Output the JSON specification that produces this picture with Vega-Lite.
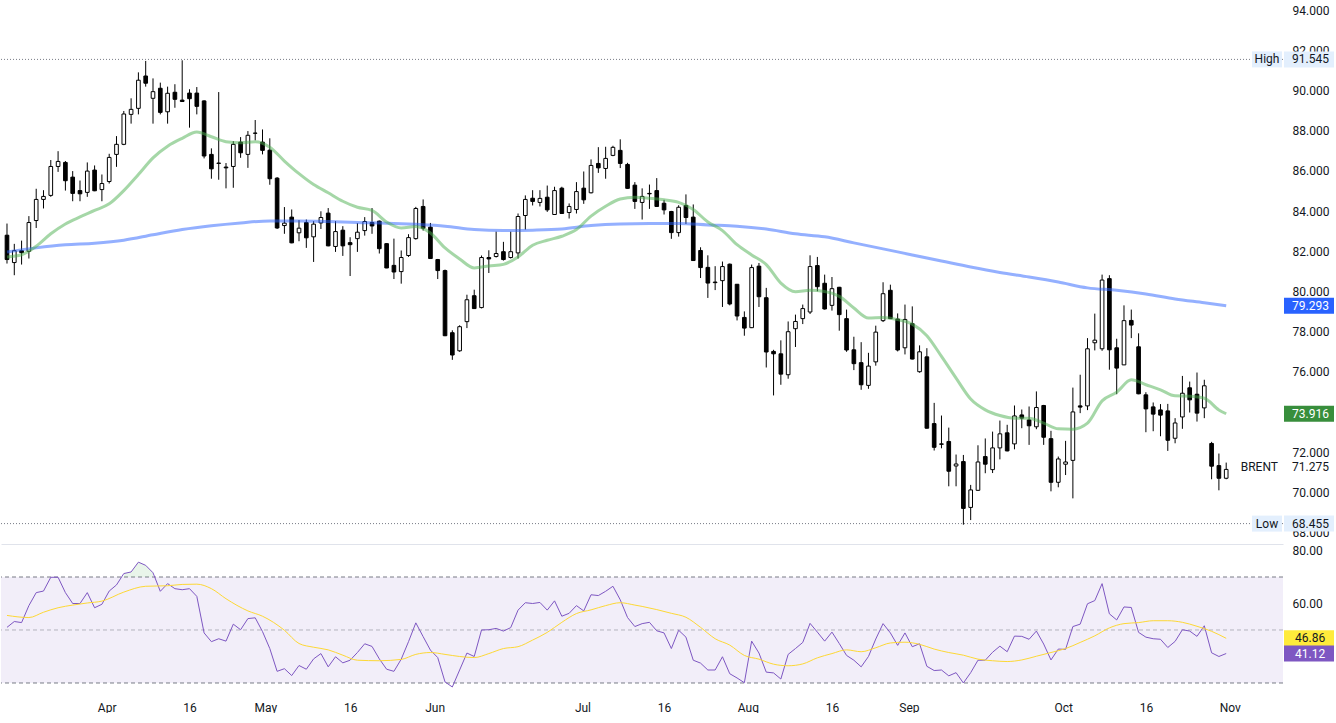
{
  "$schema": "https://vega.github.io/schema/vega-lite/v6.json",
  "padding": 0,
  "background": "#ffffff",
  "spacing": 0,
  "resolve": {"scale": {"x": "shared"}, "axis": {"x": "independent"}},
  "config": {
    "view": {"stroke": null},
    "axis": {"labelFont": "Roboto", "labelFontSize": 12, "labelColor": "#131722", "title": null, "grid": false, "ticks": false, "domain": false},
    "text": {"font": "Roboto", "fontSize": 12}
  },
  "datasets": {
    "candles": [
      {"date":"2024-03-11","open":82.80,"high":83.38,"low":81.39,"close":81.59,"rsi":51.0},
      {"date":"2024-03-12","open":81.44,"high":82.37,"low":80.81,"close":82.03,"rsi":53.2},
      {"date":"2024-03-13","open":82.03,"high":82.53,"low":81.34,"close":81.93,"rsi":52.8},
      {"date":"2024-03-14","open":82.00,"high":83.75,"low":81.64,"close":83.43,"rsi":59.2},
      {"date":"2024-03-15","open":83.53,"high":85.11,"low":83.16,"close":84.58,"rsi":64.1},
      {"date":"2024-03-18","open":84.58,"high":85.04,"low":84.13,"close":84.73,"rsi":64.7},
      {"date":"2024-03-19","open":84.78,"high":86.54,"low":84.71,"close":86.22,"rsi":69.9},
      {"date":"2024-03-20","open":86.22,"high":86.98,"low":85.95,"close":86.47,"rsi":69.9},
      {"date":"2024-03-21","open":86.42,"high":86.49,"low":85.02,"close":85.51,"rsi":64.1},
      {"date":"2024-03-22","open":85.69,"high":85.99,"low":84.49,"close":84.88,"rsi":60.0},
      {"date":"2024-03-25","open":85.02,"high":85.52,"low":84.49,"close":84.86,"rsi":60.0},
      {"date":"2024-03-26","open":84.93,"high":86.42,"low":84.71,"close":85.99,"rsi":64.1},
      {"date":"2024-03-27","open":86.04,"high":86.27,"low":84.99,"close":85.01,"rsi":58.4},
      {"date":"2024-03-28","open":85.07,"high":85.82,"low":84.49,"close":85.37,"rsi":59.7},
      {"date":"2024-03-29","open":85.47,"high":86.85,"low":85.37,"close":86.67,"rsi":64.7},
      {"date":"2024-04-01","open":86.82,"high":87.73,"low":86.20,"close":87.32,"rsi":67.0},
      {"date":"2024-04-02","open":87.32,"high":88.98,"low":87.28,"close":88.83,"rsi":71.3},
      {"date":"2024-04-03","open":88.81,"high":89.61,"low":88.35,"close":89.06,"rsi":71.9},
      {"date":"2024-04-04","open":89.11,"high":90.90,"low":88.81,"close":90.51,"rsi":75.6},
      {"date":"2024-04-05","open":90.72,"high":91.47,"low":90.19,"close":90.36,"rsi":74.4},
      {"date":"2024-04-08","open":89.61,"high":90.60,"low":88.35,"close":89.94,"rsi":71.6},
      {"date":"2024-04-09","open":90.11,"high":90.39,"low":88.81,"close":88.91,"rsi":64.6},
      {"date":"2024-04-10","open":88.94,"high":90.19,"low":88.35,"close":89.86,"rsi":67.5},
      {"date":"2024-04-11","open":89.91,"high":90.31,"low":89.14,"close":89.56,"rsi":65.6},
      {"date":"2024-04-12","open":89.52,"high":91.50,"low":89.44,"close":89.45,"rsi":65.2},
      {"date":"2024-04-15","open":89.87,"high":90.06,"low":88.15,"close":89.59,"rsi":65.6},
      {"date":"2024-04-16","open":89.87,"high":90.17,"low":88.81,"close":89.21,"rsi":62.7},
      {"date":"2024-04-17","open":89.48,"high":89.51,"low":86.62,"close":86.74,"rsi":48.9},
      {"date":"2024-04-18","open":86.82,"high":87.12,"low":85.61,"close":86.10,"rsi":45.6},
      {"date":"2024-04-19","open":86.37,"high":89.92,"low":85.56,"close":86.39,"rsi":46.7},
      {"date":"2024-04-22","open":86.19,"high":86.39,"low":85.13,"close":86.15,"rsi":45.8},
      {"date":"2024-04-23","open":86.22,"high":87.48,"low":85.16,"close":87.32,"rsi":52.2},
      {"date":"2024-04-24","open":87.43,"high":87.68,"low":86.65,"close":86.90,"rsi":50.1},
      {"date":"2024-04-25","open":86.82,"high":87.98,"low":86.15,"close":87.77,"rsi":54.3},
      {"date":"2024-04-26","open":87.88,"high":88.53,"low":87.52,"close":87.87,"rsi":54.6},
      {"date":"2024-04-29","open":87.43,"high":88.06,"low":86.82,"close":87.02,"rsi":49.4},
      {"date":"2024-04-30","open":87.03,"high":87.62,"low":85.31,"close":85.61,"rsi":43.0},
      {"date":"2024-05-01","open":85.64,"high":85.69,"low":83.11,"close":83.16,"rsi":34.4},
      {"date":"2024-05-02","open":83.28,"high":84.20,"low":82.87,"close":83.40,"rsi":35.4},
      {"date":"2024-05-03","open":83.70,"high":84.08,"low":82.40,"close":82.42,"rsi":32.8},
      {"date":"2024-05-06","open":82.92,"high":83.55,"low":82.50,"close":83.15,"rsi":36.6},
      {"date":"2024-05-07","open":83.43,"high":83.58,"low":82.17,"close":82.67,"rsi":35.2},
      {"date":"2024-05-08","open":82.72,"high":83.50,"low":81.47,"close":83.35,"rsi":39.1},
      {"date":"2024-05-09","open":83.41,"high":83.99,"low":83.11,"close":83.68,"rsi":41.1},
      {"date":"2024-05-10","open":83.90,"high":84.15,"low":82.25,"close":82.27,"rsi":36.1},
      {"date":"2024-05-13","open":82.24,"high":83.50,"low":81.97,"close":82.98,"rsi":39.9},
      {"date":"2024-05-14","open":83.05,"high":83.25,"low":81.77,"close":82.27,"rsi":37.6},
      {"date":"2024-05-15","open":82.43,"high":82.70,"low":80.77,"close":82.33,"rsi":38.6},
      {"date":"2024-05-16","open":82.63,"high":83.40,"low":81.97,"close":82.95,"rsi":41.5},
      {"date":"2024-05-17","open":83.03,"high":83.70,"low":82.78,"close":83.48,"rsi":44.8},
      {"date":"2024-05-20","open":83.43,"high":84.15,"low":82.87,"close":83.26,"rsi":43.8},
      {"date":"2024-05-21","open":83.50,"high":83.53,"low":81.89,"close":82.13,"rsi":39.1},
      {"date":"2024-05-22","open":82.38,"high":82.40,"low":81.16,"close":81.17,"rsi":35.2},
      {"date":"2024-05-23","open":81.30,"high":82.63,"low":80.62,"close":80.97,"rsi":34.4},
      {"date":"2024-05-24","open":80.99,"high":82.04,"low":80.39,"close":81.69,"rsi":39.0},
      {"date":"2024-05-27","open":81.79,"high":82.85,"low":81.72,"close":82.68,"rsi":45.6},
      {"date":"2024-05-28","open":82.63,"high":84.21,"low":82.58,"close":84.13,"rsi":52.7},
      {"date":"2024-05-29","open":84.23,"high":84.58,"low":83.03,"close":83.15,"rsi":47.5},
      {"date":"2024-05-30","open":83.20,"high":83.41,"low":81.62,"close":81.64,"rsi":42.4},
      {"date":"2024-05-31","open":81.59,"high":81.62,"low":80.62,"close":81.04,"rsi":39.6},
      {"date":"2024-06-03","open":81.04,"high":81.09,"low":77.78,"close":77.80,"rsi":30.4},
      {"date":"2024-06-04","open":77.95,"high":78.07,"low":76.60,"close":76.84,"rsi":28.5},
      {"date":"2024-06-05","open":77.05,"high":78.32,"low":77.00,"close":78.25,"rsi":34.9},
      {"date":"2024-06-06","open":78.50,"high":79.84,"low":78.18,"close":79.59,"rsi":41.3},
      {"date":"2024-06-07","open":79.79,"high":80.09,"low":79.13,"close":79.15,"rsi":40.0},
      {"date":"2024-06-10","open":79.20,"high":81.79,"low":79.16,"close":81.69,"rsi":50.0},
      {"date":"2024-06-11","open":81.69,"high":82.05,"low":80.92,"close":81.62,"rsi":50.1},
      {"date":"2024-06-12","open":81.74,"high":82.98,"low":81.69,"close":81.89,"rsi":50.6},
      {"date":"2024-06-13","open":81.98,"high":82.47,"low":81.54,"close":81.59,"rsi":49.6},
      {"date":"2024-06-14","open":81.69,"high":82.98,"low":81.64,"close":81.98,"rsi":50.9},
      {"date":"2024-06-17","open":81.92,"high":83.88,"low":81.64,"close":83.73,"rsi":57.5},
      {"date":"2024-06-18","open":83.78,"high":84.78,"low":83.08,"close":84.58,"rsi":60.3},
      {"date":"2024-06-19","open":84.64,"high":85.04,"low":84.28,"close":84.48,"rsi":60.0},
      {"date":"2024-06-20","open":84.43,"high":85.04,"low":84.23,"close":84.63,"rsi":60.4},
      {"date":"2024-06-21","open":84.69,"high":85.27,"low":83.96,"close":84.06,"rsi":57.5},
      {"date":"2024-06-24","open":83.83,"high":85.21,"low":83.81,"close":85.02,"rsi":61.0},
      {"date":"2024-06-25","open":85.14,"high":85.21,"low":83.86,"close":83.88,"rsi":55.2},
      {"date":"2024-06-26","open":83.93,"high":84.38,"low":83.63,"close":84.23,"rsi":56.3},
      {"date":"2024-06-27","open":84.08,"high":85.44,"low":83.88,"close":84.97,"rsi":59.2},
      {"date":"2024-06-28","open":85.14,"high":85.97,"low":84.36,"close":84.56,"rsi":57.2},
      {"date":"2024-07-01","open":84.91,"high":86.57,"low":84.88,"close":86.27,"rsi":63.3},
      {"date":"2024-07-02","open":86.37,"high":87.18,"low":85.90,"close":86.15,"rsi":63.0},
      {"date":"2024-07-03","open":86.12,"high":87.20,"low":85.61,"close":86.62,"rsi":64.6},
      {"date":"2024-07-04","open":86.77,"high":87.25,"low":86.73,"close":87.17,"rsi":66.5},
      {"date":"2024-07-05","open":87.02,"high":87.57,"low":86.14,"close":86.37,"rsi":61.4},
      {"date":"2024-07-08","open":86.32,"high":86.40,"low":85.11,"close":85.13,"rsi":54.7},
      {"date":"2024-07-09","open":85.29,"high":85.44,"low":84.11,"close":84.48,"rsi":51.3},
      {"date":"2024-07-10","open":84.43,"high":85.13,"low":83.58,"close":84.73,"rsi":52.4},
      {"date":"2024-07-11","open":84.88,"high":85.32,"low":84.11,"close":84.86,"rsi":52.9},
      {"date":"2024-07-12","open":85.02,"high":85.64,"low":84.21,"close":84.23,"rsi":49.7},
      {"date":"2024-07-15","open":84.39,"high":84.56,"low":83.83,"close":84.06,"rsi":48.9},
      {"date":"2024-07-16","open":83.98,"high":84.01,"low":82.62,"close":82.93,"rsi":43.0},
      {"date":"2024-07-17","open":82.93,"high":84.29,"low":82.73,"close":84.19,"rsi":49.9},
      {"date":"2024-07-18","open":84.28,"high":84.83,"low":83.36,"close":83.68,"rsi":47.3},
      {"date":"2024-07-19","open":83.70,"high":84.33,"low":81.52,"close":81.54,"rsi":38.6},
      {"date":"2024-07-22","open":82.04,"high":82.20,"low":80.67,"close":81.19,"rsi":37.5},
      {"date":"2024-07-23","open":81.20,"high":81.80,"low":79.68,"close":80.42,"rsi":34.9},
      {"date":"2024-07-24","open":80.47,"high":81.26,"low":80.07,"close":80.44,"rsi":34.9},
      {"date":"2024-07-25","open":80.54,"high":81.49,"low":79.23,"close":81.24,"rsi":39.9},
      {"date":"2024-07-26","open":81.36,"high":81.39,"low":79.31,"close":79.38,"rsi":33.5},
      {"date":"2024-07-29","open":80.36,"high":80.37,"low":78.56,"close":78.78,"rsi":31.9},
      {"date":"2024-07-30","open":78.71,"high":79.01,"low":77.80,"close":78.18,"rsi":30.1},
      {"date":"2024-07-31","open":78.20,"high":81.34,"low":78.18,"close":81.19,"rsi":45.8},
      {"date":"2024-08-01","open":81.26,"high":81.42,"low":79.23,"close":79.74,"rsi":41.3},
      {"date":"2024-08-02","open":79.69,"high":80.18,"low":76.22,"close":76.99,"rsi":34.1},
      {"date":"2024-08-05","open":77.02,"high":77.10,"low":74.83,"close":76.90,"rsi":33.8},
      {"date":"2024-08-06","open":76.90,"high":77.57,"low":75.36,"close":75.89,"rsi":31.5},
      {"date":"2024-08-07","open":75.86,"high":78.51,"low":75.66,"close":78.00,"rsi":40.8},
      {"date":"2024-08-08","open":78.15,"high":78.85,"low":77.24,"close":78.51,"rsi":43.0},
      {"date":"2024-08-09","open":78.65,"high":79.35,"low":78.38,"close":79.15,"rsi":45.3},
      {"date":"2024-08-12","open":78.98,"high":81.80,"low":78.88,"close":81.24,"rsi":52.5},
      {"date":"2024-08-13","open":81.29,"high":81.72,"low":80.01,"close":80.24,"rsi":49.2},
      {"date":"2024-08-14","open":80.41,"high":80.84,"low":79.10,"close":79.13,"rsi":45.8},
      {"date":"2024-08-15","open":79.31,"high":80.72,"low":79.05,"close":80.14,"rsi":49.2},
      {"date":"2024-08-16","open":80.21,"high":80.23,"low":78.05,"close":78.85,"rsi":44.9},
      {"date":"2024-08-19","open":78.65,"high":79.10,"low":77.00,"close":77.09,"rsi":40.4},
      {"date":"2024-08-20","open":77.10,"high":77.75,"low":76.09,"close":76.41,"rsi":38.6},
      {"date":"2024-08-21","open":76.46,"high":77.48,"low":75.11,"close":75.36,"rsi":36.1},
      {"date":"2024-08-22","open":75.33,"high":76.95,"low":75.16,"close":76.29,"rsi":40.0},
      {"date":"2024-08-23","open":76.50,"high":78.30,"low":76.31,"close":77.98,"rsi":46.6},
      {"date":"2024-08-26","open":78.55,"high":80.46,"low":78.48,"close":79.89,"rsi":52.4},
      {"date":"2024-08-27","open":80.06,"high":80.34,"low":78.63,"close":78.65,"rsi":48.9},
      {"date":"2024-08-28","open":78.63,"high":78.91,"low":77.02,"close":77.09,"rsi":44.2},
      {"date":"2024-08-29","open":77.20,"high":79.35,"low":76.87,"close":78.61,"rsi":48.9},
      {"date":"2024-08-30","open":78.40,"high":79.26,"low":76.62,"close":76.64,"rsi":43.7},
      {"date":"2024-09-02","open":76.01,"high":77.32,"low":75.96,"close":77.00,"rsi":44.8},
      {"date":"2024-09-03","open":76.75,"high":77.18,"low":73.18,"close":73.20,"rsi":36.3},
      {"date":"2024-09-04","open":73.43,"high":74.46,"low":72.09,"close":72.25,"rsi":34.7},
      {"date":"2024-09-05","open":72.42,"high":73.83,"low":72.20,"close":72.40,"rsi":34.9},
      {"date":"2024-09-06","open":72.54,"high":73.23,"low":70.31,"close":71.06,"rsi":32.7},
      {"date":"2024-09-09","open":71.32,"high":71.89,"low":70.31,"close":71.42,"rsi":33.9},
      {"date":"2024-09-10","open":71.54,"high":71.87,"low":68.40,"close":69.21,"rsi":30.0},
      {"date":"2024-09-11","open":69.26,"high":70.38,"low":68.63,"close":70.13,"rsi":33.9},
      {"date":"2024-09-12","open":70.11,"high":72.35,"low":70.09,"close":71.52,"rsi":38.6},
      {"date":"2024-09-13","open":71.79,"high":72.69,"low":70.96,"close":71.41,"rsi":38.6},
      {"date":"2024-09-16","open":71.14,"high":73.03,"low":70.97,"close":72.22,"rsi":41.6},
      {"date":"2024-09-17","open":72.22,"high":73.58,"low":71.65,"close":72.92,"rsi":43.9},
      {"date":"2024-09-18","open":72.97,"high":73.37,"low":72.05,"close":72.07,"rsi":41.8},
      {"date":"2024-09-19","open":72.42,"high":74.33,"low":72.15,"close":73.81,"rsi":47.7},
      {"date":"2024-09-20","open":73.86,"high":74.13,"low":73.20,"close":73.70,"rsi":47.6},
      {"date":"2024-09-23","open":73.61,"high":74.28,"low":72.37,"close":73.32,"rsi":46.5},
      {"date":"2024-09-24","open":73.27,"high":75.03,"low":73.15,"close":74.23,"rsi":49.6},
      {"date":"2024-09-25","open":74.33,"high":74.36,"low":72.37,"close":72.75,"rsi":44.7},
      {"date":"2024-09-26","open":72.68,"high":73.07,"low":70.06,"close":70.51,"rsi":38.7},
      {"date":"2024-09-27","open":70.51,"high":71.79,"low":70.26,"close":71.67,"rsi":42.8},
      {"date":"2024-09-30","open":71.41,"high":72.57,"low":70.87,"close":71.52,"rsi":42.7},
      {"date":"2024-10-01","open":71.60,"high":75.22,"low":69.71,"close":74.01,"rsi":51.3},
      {"date":"2024-10-02","open":74.31,"high":75.86,"low":73.95,"close":74.25,"rsi":52.2},
      {"date":"2024-10-03","open":74.31,"high":77.68,"low":74.10,"close":77.15,"rsi":59.9},
      {"date":"2024-10-04","open":77.45,"high":78.90,"low":77.07,"close":77.58,"rsi":61.1},
      {"date":"2024-10-07","open":77.15,"high":80.84,"low":77.05,"close":80.57,"rsi":67.5},
      {"date":"2024-10-08","open":80.64,"high":80.81,"low":76.11,"close":77.10,"rsi":56.1},
      {"date":"2024-10-09","open":77.20,"high":77.65,"low":74.89,"close":76.19,"rsi":53.8},
      {"date":"2024-10-10","open":76.35,"high":79.31,"low":76.34,"close":78.55,"rsi":58.7},
      {"date":"2024-10-11","open":78.56,"high":79.10,"low":77.68,"close":78.33,"rsi":58.5},
      {"date":"2024-10-14","open":77.25,"high":77.92,"low":74.89,"close":74.91,"rsi":49.1},
      {"date":"2024-10-15","open":74.86,"high":74.99,"low":73.00,"close":74.16,"rsi":47.3},
      {"date":"2024-10-16","open":74.26,"high":74.48,"low":73.05,"close":73.90,"rsi":46.7},
      {"date":"2024-10-17","open":74.11,"high":74.40,"low":72.80,"close":73.85,"rsi":46.5},
      {"date":"2024-10-18","open":74.06,"high":74.41,"low":72.07,"close":72.60,"rsi":43.4},
      {"date":"2024-10-21","open":72.70,"high":73.70,"low":72.45,"close":73.46,"rsi":45.7},
      {"date":"2024-10-22","open":73.76,"high":75.80,"low":73.17,"close":74.94,"rsi":50.1},
      {"date":"2024-10-23","open":75.21,"high":75.52,"low":73.98,"close":74.61,"rsi":49.6},
      {"date":"2024-10-24","open":74.89,"high":75.97,"low":73.53,"close":73.95,"rsi":47.6},
      {"date":"2024-10-25","open":74.21,"high":75.61,"low":73.70,"close":75.31,"rsi":51.6},
      {"date":"2024-10-28","open":72.44,"high":72.52,"low":70.66,"close":71.31,"rsi":41.4},
      {"date":"2024-10-29","open":71.34,"high":71.94,"low":70.11,"close":70.71,"rsi":40.0},
      {"date":"2024-10-30","open":70.71,"high":71.49,"low":70.66,"close":71.15,"rsi":41.12}
    ],
    "sma20": [
      {"date":"2024-03-11","value":81.72},{"date":"2024-03-13","value":81.83},{"date":"2024-03-15","value":82.25},{"date":"2024-03-19","value":82.87},
      {"date":"2024-03-21","value":83.36},{"date":"2024-03-25","value":83.71},{"date":"2024-03-27","value":84.03},{"date":"2024-03-29","value":84.36},
      {"date":"2024-04-02","value":85.02},{"date":"2024-04-04","value":85.82},{"date":"2024-04-08","value":86.65},{"date":"2024-04-10","value":87.23},
      {"date":"2024-04-12","value":87.62},{"date":"2024-04-16","value":87.93},{"date":"2024-04-18","value":87.70},{"date":"2024-04-22","value":87.45},
      {"date":"2024-04-24","value":87.40},{"date":"2024-04-26","value":87.45},{"date":"2024-04-30","value":87.18},{"date":"2024-05-02","value":86.49},
      {"date":"2024-05-06","value":85.86},{"date":"2024-05-08","value":85.32},{"date":"2024-05-10","value":84.91},{"date":"2024-05-14","value":84.49},
      {"date":"2024-05-16","value":84.19},{"date":"2024-05-20","value":84.03},{"date":"2024-05-22","value":83.46},{"date":"2024-05-24","value":83.16},
      {"date":"2024-05-28","value":83.23},{"date":"2024-05-30","value":82.91},{"date":"2024-06-03","value":82.17},{"date":"2024-06-05","value":81.62},
      {"date":"2024-06-07","value":81.17},{"date":"2024-06-11","value":81.27},{"date":"2024-06-13","value":81.35},{"date":"2024-06-17","value":81.72},
      {"date":"2024-06-19","value":82.30},{"date":"2024-06-21","value":82.55},{"date":"2024-06-25","value":82.75},{"date":"2024-06-27","value":83.08},
      {"date":"2024-07-01","value":83.75},{"date":"2024-07-03","value":84.24},{"date":"2024-07-05","value":84.60},{"date":"2024-07-09","value":84.69},
      {"date":"2024-07-11","value":84.64},{"date":"2024-07-15","value":84.56},{"date":"2024-07-17","value":84.43},{"date":"2024-07-19","value":84.08},
      {"date":"2024-07-23","value":83.46},{"date":"2024-07-25","value":83.03},{"date":"2024-07-29","value":82.33},{"date":"2024-07-31","value":81.82},
      {"date":"2024-08-02","value":81.34},{"date":"2024-08-06","value":80.42},{"date":"2024-08-08","value":79.99},{"date":"2024-08-12","value":80.06},
      {"date":"2024-08-14","value":80.00},{"date":"2024-08-16","value":79.76},{"date":"2024-08-20","value":79.18},{"date":"2024-08-22","value":78.68},
      {"date":"2024-08-26","value":78.71},{"date":"2024-08-28","value":78.60},{"date":"2024-08-30","value":78.38},{"date":"2024-09-03","value":77.80},
      {"date":"2024-09-05","value":76.77},{"date":"2024-09-09","value":75.69},{"date":"2024-09-11","value":74.65},{"date":"2024-09-13","value":74.11},
      {"date":"2024-09-17","value":73.83},{"date":"2024-09-19","value":73.70},{"date":"2024-09-23","value":73.70},{"date":"2024-09-25","value":73.45},
      {"date":"2024-09-27","value":73.17},{"date":"2024-10-01","value":73.15},{"date":"2024-10-03","value":73.45},{"date":"2024-10-07","value":74.56},
      {"date":"2024-10-09","value":74.99},{"date":"2024-10-11","value":75.61},{"date":"2024-10-15","value":75.36},{"date":"2024-10-17","value":75.11},
      {"date":"2024-10-21","value":74.81},{"date":"2024-10-23","value":74.79},{"date":"2024-10-25","value":74.69},{"date":"2024-10-29","value":74.11},
      {"date":"2024-10-30","value":73.92}
    ],
    "sma100": [
      {"date":"2024-03-11","value":81.97},{"date":"2024-03-15","value":82.17},{"date":"2024-03-21","value":82.32},{"date":"2024-03-27","value":82.40},
      {"date":"2024-04-02","value":82.55},{"date":"2024-04-08","value":82.82},{"date":"2024-04-12","value":83.08},{"date":"2024-04-18","value":83.27},
      {"date":"2024-04-24","value":83.41},{"date":"2024-04-30","value":83.51},{"date":"2024-05-06","value":83.51},{"date":"2024-05-10","value":83.48},
      {"date":"2024-05-16","value":83.43},{"date":"2024-05-22","value":83.40},{"date":"2024-05-28","value":83.34},{"date":"2024-06-03","value":83.25},
      {"date":"2024-06-07","value":83.08},{"date":"2024-06-13","value":83.03},{"date":"2024-06-19","value":83.05},{"date":"2024-06-25","value":83.11},
      {"date":"2024-07-01","value":83.28},{"date":"2024-07-05","value":83.36},{"date":"2024-07-11","value":83.38},{"date":"2024-07-17","value":83.38},
      {"date":"2024-07-23","value":83.31},{"date":"2024-07-29","value":83.25},{"date":"2024-08-02","value":83.11},{"date":"2024-08-08","value":82.87},
      {"date":"2024-08-14","value":82.72},{"date":"2024-08-20","value":82.42},{"date":"2024-08-26","value":82.12},{"date":"2024-08-30","value":81.82},
      {"date":"2024-09-05","value":81.52},{"date":"2024-09-11","value":81.22},{"date":"2024-09-17","value":80.95},{"date":"2024-09-23","value":80.72},
      {"date":"2024-09-27","value":80.47},{"date":"2024-10-03","value":80.18},{"date":"2024-10-09","value":80.06},{"date":"2024-10-15","value":79.88},
      {"date":"2024-10-21","value":79.63},{"date":"2024-10-25","value":79.44},{"date":"2024-10-30","value":79.29}
    ],
    "rsiMa": [
      {"date":"2024-03-11","value":55.5},{"date":"2024-03-14","value":54.7},{"date":"2024-03-18","value":56.7},{"date":"2024-03-20","value":58.4},
      {"date":"2024-03-22","value":59.4},{"date":"2024-03-26","value":60.2},{"date":"2024-03-28","value":60.9},{"date":"2024-04-02","value":64.3},
      {"date":"2024-04-05","value":66.5},{"date":"2024-04-10","value":66.7},{"date":"2024-04-12","value":67.2},{"date":"2024-04-16","value":67.3},
      {"date":"2024-04-18","value":65.6},{"date":"2024-04-22","value":61.8},{"date":"2024-04-25","value":57.2},{"date":"2024-04-29","value":55.2},
      {"date":"2024-05-02","value":49.9},{"date":"2024-05-06","value":44.9},{"date":"2024-05-08","value":43.5},{"date":"2024-05-10","value":42.5},
      {"date":"2024-05-14","value":40.5},{"date":"2024-05-16","value":38.6},{"date":"2024-05-21","value":38.4},{"date":"2024-05-24","value":38.9},
      {"date":"2024-05-28","value":40.8},{"date":"2024-05-30","value":41.5},{"date":"2024-06-03","value":40.8},{"date":"2024-06-05","value":40.0},
      {"date":"2024-06-07","value":39.6},{"date":"2024-06-11","value":41.1},{"date":"2024-06-13","value":43.0},{"date":"2024-06-17","value":43.7},
      {"date":"2024-06-19","value":46.2},{"date":"2024-06-21","value":49.1},{"date":"2024-06-25","value":52.9},{"date":"2024-06-27","value":56.2},
      {"date":"2024-07-01","value":57.6},{"date":"2024-07-03","value":59.2},{"date":"2024-07-05","value":60.3},{"date":"2024-07-09","value":59.4},
      {"date":"2024-07-10","value":58.9},{"date":"2024-07-12","value":57.7},{"date":"2024-07-16","value":56.3},{"date":"2024-07-18","value":54.8},
      {"date":"2024-07-22","value":51.0},{"date":"2024-07-24","value":46.7},{"date":"2024-07-26","value":44.3},{"date":"2024-07-30","value":40.4},
      {"date":"2024-08-01","value":39.0},{"date":"2024-08-05","value":37.1},{"date":"2024-08-07","value":36.5},{"date":"2024-08-09","value":37.2},
      {"date":"2024-08-13","value":39.5},{"date":"2024-08-15","value":41.1},{"date":"2024-08-19","value":42.5},{"date":"2024-08-21","value":41.8},
      {"date":"2024-08-23","value":43.3},{"date":"2024-08-27","value":45.1},{"date":"2024-08-29","value":45.4},{"date":"2024-09-02","value":44.6},
      {"date":"2024-09-04","value":42.8},{"date":"2024-09-06","value":41.5},{"date":"2024-09-10","value":40.5},{"date":"2024-09-12","value":39.0},
      {"date":"2024-09-16","value":38.4},{"date":"2024-09-18","value":38.1},{"date":"2024-09-20","value":38.7},{"date":"2024-09-24","value":40.1},
      {"date":"2024-09-26","value":41.5},{"date":"2024-09-30","value":43.0},{"date":"2024-10-02","value":45.3},{"date":"2024-10-04","value":47.8},
      {"date":"2024-10-08","value":50.8},{"date":"2024-10-10","value":52.4},{"date":"2024-10-14","value":52.8},{"date":"2024-10-16","value":53.5},
      {"date":"2024-10-18","value":53.5},{"date":"2024-10-22","value":52.9},{"date":"2024-10-24","value":51.4},{"date":"2024-10-28","value":49.5},
      {"date":"2024-10-30","value":46.86}
    ],
    "extremes": [{"label":"High","value":91.545},{"label":"Low","value":68.455}],
    "rsiLevels": [{"upper":70,"middle":50,"lower":30}]
  },
  "vconcat": [
    {
      "width": 1282,
      "height": 544,
      "layer": [
        {
          "data": {"name": "extremes"},
          "mark": {"type": "rule", "strokeDash": [1, 2], "color": "#787b86", "strokeWidth": 1},
          "encoding": {
            "y": {"field": "value", "type": "quantitative",
              "scale": {"domain": [67.44, 94.5], "zero": false, "nice": false},
              "axis": {"orient": "right", "values": [68,70,72,74,76,78,80,82,84,86,88,90,92,94], "format": ".3f", "labelPadding": 9, "labelOverlap": false, "labelFlush": false}}
          }
        },
        {
          "data": {"name": "candles"},
          "mark": {"type": "rule", "color": "#000000", "strokeWidth": 1},
          "encoding": {
            "x": {"field": "date", "type": "ordinal",
              "scale": {"type": "band", "domain": {"unionWith": ["2024-10-31", "2024-11-01", "2024-11-04", "2024-11-05", "2024-11-06", "2024-11-07"]}, "paddingInner": 0, "paddingOuter": 0.8, "align": 0.2, "round": false},
              "axis": {"labels": false, "ticks": false, "domain": true, "domainColor": "#e0e3eb", "domainWidth": 1, "title": null}},
            "y": {"field": "low", "type": "quantitative"},
            "y2": {"field": "high"}
          }
        },
        {
          "data": {"name": "candles"},
          "mark": {"type": "bar", "width": {"band": 0.5}, "stroke": "#000000", "strokeWidth": 1},
          "encoding": {
            "x": {"field": "date", "type": "ordinal"},
            "y": {"field": "open", "type": "quantitative"},
            "y2": {"field": "close"},
            "fill": {"condition": {"test": "datum.close >= datum.open", "value": "#ffffff"}, "value": "#000000"}
          }
        },
        {
          "data": {"name": "sma100"},
          "mark": {"type": "line", "color": "#2962ff", "strokeOpacity": 0.5, "strokeWidth": 3, "interpolate": "monotone"},
          "encoding": {
            "x": {"field": "date", "type": "ordinal"},
            "y": {"field": "value", "type": "quantitative"}
          }
        },
        {
          "data": {"name": "sma20"},
          "mark": {"type": "line", "color": "#4caf50", "strokeOpacity": 0.5, "strokeWidth": 3, "interpolate": "monotone"},
          "encoding": {
            "x": {"field": "date", "type": "ordinal"},
            "y": {"field": "value", "type": "quantitative"}
          }
        },
        {
          "data": {"name": "extremes"},
          "mark": {"type": "rect", "fill": "#e3effd", "xOffset": -31, "x2Offset": -1, "yOffset": -8, "y2Offset": 8},
          "encoding": {"x": {"value": "width"}, "x2": {"value": "width"}, "y": {"field": "value", "type": "quantitative"}, "y2": {"field": "value"}}
        },
        {
          "data": {"name": "extremes"},
          "mark": {"type": "rect", "fill": "#e3effd", "xOffset": 1, "x2Offset": 51, "yOffset": -8, "y2Offset": 8},
          "encoding": {"x": {"value": "width"}, "x2": {"value": "width"}, "y": {"field": "value", "type": "quantitative"}, "y2": {"field": "value"}}
        },
        {
          "data": {"name": "extremes"},
          "mark": {"type": "text", "align": "center", "baseline": "middle", "dx": -16, "color": "#131722", "fontSize": 12},
          "encoding": {"x": {"value": "width"}, "y": {"field": "value", "type": "quantitative"}, "text": {"field": "label"}}
        },
        {
          "data": {"name": "extremes"},
          "mark": {"type": "text", "align": "left", "baseline": "middle", "dx": 9, "color": "#131722", "fontSize": 12},
          "encoding": {"x": {"value": "width"}, "y": {"field": "value", "type": "quantitative"}, "text": {"field": "value", "format": ".3f"}}
        },
        {
          "data": {"values": [{"value": 79.293}]},
          "layer": [
            {"mark": {"type": "rect", "fill": "#2962ff", "xOffset": 1, "x2Offset": 51, "yOffset": -8, "y2Offset": 8},
             "encoding": {"x": {"value": "width"}, "x2": {"value": "width"}, "y": {"field": "value", "type": "quantitative"}, "y2": {"field": "value"}}},
            {"mark": {"type": "text", "align": "left", "baseline": "middle", "dx": 9, "color": "#ffffff", "fontSize": 12},
             "encoding": {"x": {"value": "width"}, "y": {"field": "value", "type": "quantitative"}, "text": {"field": "value", "format": ".3f"}}}
          ]
        },
        {
          "data": {"values": [{"value": 73.916}]},
          "layer": [
            {"mark": {"type": "rect", "fill": "#388e3c", "xOffset": 1, "x2Offset": 51, "yOffset": -8, "y2Offset": 8},
             "encoding": {"x": {"value": "width"}, "x2": {"value": "width"}, "y": {"field": "value", "type": "quantitative"}, "y2": {"field": "value"}}},
            {"mark": {"type": "text", "align": "left", "baseline": "middle", "dx": 9, "color": "#ffffff", "fontSize": 12},
             "encoding": {"x": {"value": "width"}, "y": {"field": "value", "type": "quantitative"}, "text": {"field": "value", "format": ".3f"}}}
          ]
        },
        {
          "data": {"values": [{"symbol": "BRENT", "value": 71.275}]},
          "layer": [
            {"mark": {"type": "text", "align": "right", "baseline": "middle", "dx": -5, "color": "#131722", "fontSize": 12},
             "encoding": {"x": {"value": "width"}, "y": {"field": "value", "type": "quantitative"}, "text": {"field": "symbol"}}},
            {"mark": {"type": "text", "align": "left", "baseline": "middle", "dx": 9, "color": "#131722", "fontSize": 12},
             "encoding": {"x": {"value": "width"}, "y": {"field": "value", "type": "quantitative"}, "text": {"field": "value", "format": ".3f"}}}
          ]
        }
      ]
    },
    {
      "width": 1282,
      "height": 153,
      "layer": [
        {
          "data": {"name": "rsiLevels"},
          "mark": {"type": "rect", "fill": "#7e57c2", "opacity": 0.1},
          "encoding": {
            "y": {"field": "upper", "type": "quantitative",
              "scale": {"domain": [23.96, 81.7], "zero": false, "nice": false},
              "axis": {"orient": "right", "values": [60, 80], "format": ".2f", "labelPadding": 9, "labelOverlap": false, "labelFlush": false}},
            "y2": {"field": "lower"}
          }
        },
        {
          "data": {"name": "rsiLevels"},
          "mark": {"type": "rule", "color": "#787b86", "strokeDash": [4, 3], "strokeWidth": 1},
          "encoding": {"y": {"field": "upper", "type": "quantitative"}}
        },
        {
          "data": {"name": "rsiLevels"},
          "mark": {"type": "rule", "color": "#787b86", "strokeDash": [4, 3], "strokeWidth": 1},
          "encoding": {"y": {"field": "lower", "type": "quantitative"}}
        },
        {
          "data": {"name": "rsiLevels"},
          "mark": {"type": "rule", "color": "#787b86", "strokeOpacity": 0.5, "strokeDash": [4, 3], "strokeWidth": 1},
          "encoding": {"y": {"field": "middle", "type": "quantitative"}}
        },
        {
          "data": {"name": "candles"},
          "transform": [{"filter": "datum.rsi >= 70"}],
          "mark": {"type": "area", "color": "#4caf50", "opacity": 0.12},
          "encoding": {
            "x": {"field": "date", "type": "ordinal"},
            "y": {"field": "rsi", "type": "quantitative"},
            "y2": {"datum": 70}
          }
        },
        {
          "data": {"name": "candles"},
          "mark": {"type": "line", "color": "#7e57c2", "strokeWidth": 1},
          "encoding": {
            "x": {"field": "date", "type": "ordinal",
              "scale": {"type": "band", "domain": {"unionWith": ["2024-10-31", "2024-11-01", "2024-11-04", "2024-11-05", "2024-11-06", "2024-11-07"]}, "paddingInner": 0, "paddingOuter": 0.8, "align": 0.2, "round": false},
              "axis": {"values": ["2024-04-01","2024-04-16","2024-05-01","2024-05-16","2024-06-03","2024-07-01","2024-07-16","2024-08-01","2024-08-16","2024-09-02","2024-10-01","2024-10-16","2024-11-01"],
                "labelExpr": "substring(datum.value, 8, 10) == '16' ? '16' : utcFormat(toDate(datum.value), '%b')",
                "labelAngle": 0, "labelPadding": 8, "domain": false, "ticks": false, "title": null}},
            "y": {"field": "rsi", "type": "quantitative"}
          }
        },
        {
          "data": {"name": "rsiMa"},
          "mark": {"type": "line", "color": "#fdd835", "strokeWidth": 1, "interpolate": "monotone"},
          "encoding": {
            "x": {"field": "date", "type": "ordinal"},
            "y": {"field": "value", "type": "quantitative"}
          }
        },
        {
          "data": {"values": [{"value": 46.86}]},
          "layer": [
            {"mark": {"type": "rect", "fill": "#ffeb3b", "xOffset": 1, "x2Offset": 51, "yOffset": -8, "y2Offset": 8},
             "encoding": {"x": {"value": "width"}, "x2": {"value": "width"}, "y": {"field": "value", "type": "quantitative"}, "y2": {"field": "value"}}},
            {"mark": {"type": "text", "align": "left", "baseline": "middle", "dx": 12, "color": "#131722", "fontSize": 12},
             "encoding": {"x": {"value": "width"}, "y": {"field": "value", "type": "quantitative"}, "text": {"field": "value", "format": ".2f"}}}
          ]
        },
        {
          "data": {"values": [{"value": 41.12}]},
          "layer": [
            {"mark": {"type": "rect", "fill": "#7e57c2", "xOffset": 1, "x2Offset": 51, "yOffset": -8, "y2Offset": 8},
             "encoding": {"x": {"value": "width"}, "x2": {"value": "width"}, "y": {"field": "value", "type": "quantitative"}, "y2": {"field": "value"}}},
            {"mark": {"type": "text", "align": "left", "baseline": "middle", "dx": 12, "color": "#ffffff", "fontSize": 12},
             "encoding": {"x": {"value": "width"}, "y": {"field": "value", "type": "quantitative"}, "text": {"field": "value", "format": ".2f"}}}
          ]
        }
      ]
    }
  ]
}
